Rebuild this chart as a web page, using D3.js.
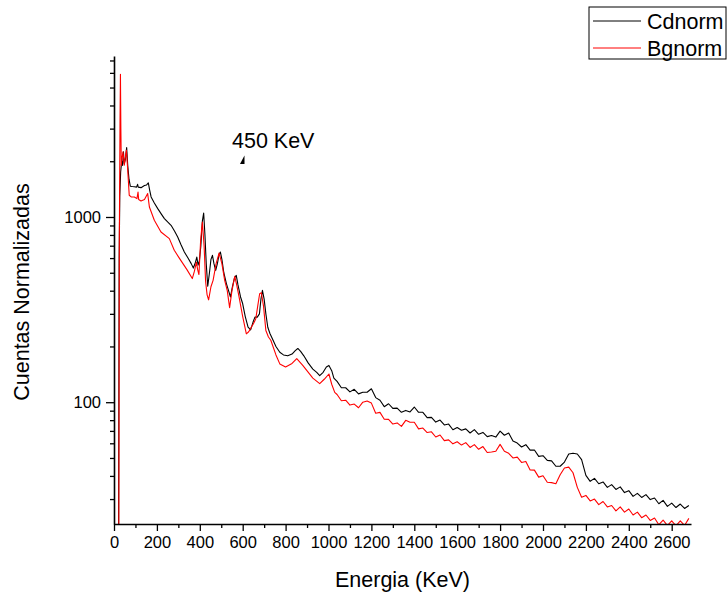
<html>

<head>
    <script src="https://d3js.org/d3.v7.min.js"></script>
    <title>Cdnorm vs Bgnorm</title>
    <style>
        body { margin: 0; background: #fff; }
        text { font-family: Arial, "Liberation Sans", sans-serif; fill: #000; }
    </style>
</head>

<body>
    <div id="vis"></div>
</body>

<script>

    // ---- data (energy in KeV, normalized counts) ----
    var cdEnergyLow = [18, 21, 24, 27, 31, 36, 40, 44, 48, 53, 59, 64, 70, 76, 85, 95, 105, 110, 113, 126,
        142, 152, 160, 166, 173, 188, 204, 220, 235, 250, 266, 282, 297, 312, 328, 345, 360, 370, 380, 386,
        392, 398, 405, 412, 418, 424, 430, 437, 445, 452, 459, 466, 474, 482, 490, 496, 503, 512, 524, 534,
        543, 552, 562, 570, 578, 590, 600, 612, 625, 637, 648, 657, 668, 678, 685, 692, 700, 708, 717, 727,
        740, 755, 773, 790, 810, 830, 845, 857, 870, 885, 905, 927, 945, 959, 975, 990, 1002, 1015, 1025];
    var cdLow = [8, 12, 600, 1300, 1750, 2000, 1900, 2246, 1944, 2050, 2372, 1900, 1600, 1466, 1460, 1455, 1450, 1500, 1450, 1440,
        1480, 1490, 1527, 1400, 1283, 1190, 1110, 1040, 980, 940, 902, 840, 780, 710, 647, 600, 560, 530, 570, 608,
        550, 580, 700, 950, 1051, 800, 560, 423, 500, 590, 621, 560, 515, 560, 630, 647, 590, 500, 437, 400,
        370, 420, 470, 484, 430, 370, 340, 290, 254, 246, 270, 288, 288, 300, 360, 402, 360, 300, 254, 235,
        218, 200, 186, 180, 178, 182, 190, 195, 188, 178, 163, 151, 145, 139, 145, 155, 158, 148, 135];

    var bgEnergyLow = [18, 22, 25, 28, 30, 32, 34, 36, 42, 48, 53, 58, 64, 71, 80, 95, 107, 112, 115, 126,
        142, 157, 165, 188, 219, 258, 281, 306, 340, 365, 375, 384, 390, 396, 404, 412, 420, 427, 434, 441,
        452, 462, 476, 490, 503, 516, 528, 539, 550, 563, 572, 583, 600, 617, 628, 640, 650, 661, 670, 679,
        687, 697, 708, 720, 731, 755, 773, 800, 830, 852, 880, 927, 959, 980, 1002, 1015, 1029];
    var bgLow = [5, 10, 800, 3200, 5900, 3000, 1900, 2026, 2246, 1903, 2100, 2294, 1788, 1310, 1283, 1283, 1257, 1365, 1242, 1220,
        1242, 1338, 1133, 960, 830, 764, 661, 596, 520, 465, 510, 570, 520, 489, 750, 940, 700, 450, 380, 357,
        420, 455, 560, 639, 560, 455, 400, 324, 400, 478, 430, 370, 290, 234, 240, 254, 265, 282, 330, 385,
        390, 330, 244, 225, 216, 180, 161, 155, 162, 172, 158, 135, 126, 133, 142, 125, 113];

    // high energy part, every 20 KeV from 1040 to 2680 (noisy)
    var tailEnergy = [1040, 1060, 1080, 1100, 1120, 1140, 1160, 1180, 1200, 1220, 1240, 1260, 1280, 1300, 1320, 1340, 1360, 1380, 1400, 1420,
        1440, 1460, 1480, 1500, 1520, 1540, 1560, 1580, 1600, 1620, 1640, 1660, 1680, 1700, 1720, 1740, 1760, 1780, 1800, 1820,
        1840, 1860, 1880, 1900, 1920, 1940, 1960, 1980, 2000, 2020, 2040, 2060, 2080, 2100, 2120, 2140, 2160, 2180, 2200, 2220,
        2240, 2260, 2280, 2300, 2320, 2340, 2360, 2380, 2400, 2420, 2440, 2460, 2480, 2500, 2520, 2540, 2560, 2580, 2600, 2620,
        2640, 2660, 2680];
    var cdTail = [129.5, 119.6, 119.7, 113.7, 117.4, 110.9, 113.2, 113.2, 118.2, 105.9, 102.5, 94.6, 98.1, 92.6, 92.9, 88.2, 90.3, 88.6, 94.2, 88.2,
        88.2, 82.6, 82.8, 78.1, 80.1, 75.4, 76.2, 71.0, 73.0, 70.6, 71.8, 68.2, 71.1, 67.1, 68.7, 65.2, 66.1, 64.8, 69.8, 66.3,
        68.1, 61.7, 60.2, 57.3, 59.0, 55.1, 55.2, 51.0, 51.4, 48.5, 48.2, 45.1, 45.1, 47.5, 52.5, 53.0, 52.5, 49.0, 40.3, 37.4,
        38.8, 36.3, 37.1, 34.7, 35.9, 33.8, 34.9, 32.5, 33.3, 31.0, 32.2, 30.6, 31.7, 29.8, 30.4, 28.3, 29.5, 27.4, 28.5, 27.0,
        28.2, 26.7, 27.7];
    var bgTail = [110.1, 101.9, 102.5, 96.5, 97.7, 93.3, 100, 101.5, 98.9, 87.2, 88.1, 80.9, 80.8, 76.2, 77.3, 74.0, 79.8, 78.0, 78.0, 71.8,
        72.5, 68.6, 69.2, 64.9, 66.5, 62.0, 62.6, 59.6, 61.2, 58.7, 60.5, 57.0, 59.0, 55.7, 57.6, 53.5, 53.9, 54.4, 59.2, 54.4,
        53.0, 50.0, 50.5, 47.3, 47.9, 43.1, 43.0, 39.4, 40.1, 37.0, 36.8, 36.3, 40.6, 44.1, 44.6, 41.6, 34.7, 30.7, 31.4, 29.3,
        30.0, 28.0, 29.1, 27.2, 27.7, 25.9, 27.2, 25.5, 26.5, 24.6, 25.5, 23.8, 24.6, 23.0, 23.7, 21.8, 23.1, 21.6, 22.9, 21.5,
        22.9, 21.6, 23.6];

    var seriesNames = ["Cdnorm", "Bgnorm"];
    var seriesColors = ["#000000", "#ff0000"];
    var xTickValues = d3.range(0, 2601, 100);
    var yTickValues = [30, 40, 50, 60, 70, 80, 90, 100, 200, 300, 400, 500, 600, 700, 800, 900, 1000, 2000, 3000, 4000, 5000, 6000, 7000];

    // ---- layout ----
    var W = 728, H = 597;
    var margin = { top: 56, right: 37, bottom: 73, left: 114 },
        width = W - margin.left - margin.right,
        height = H - margin.top - margin.bottom;

    var svg = d3.select("#vis")
        .append("svg")
        .attr("width", W)
        .attr("height", H);

    var g = svg.append("g")
        .attr("transform", "translate(" + margin.left + "," + margin.top + ")");

    var x = d3.scaleLinear()
        .domain([0, 2690])
        .range([0, width]);

    var y = d3.scaleLog()
        .domain([22, 7400])
        .range([height, 0]);

    // clip for the traces
    svg.append("defs").append("clipPath")
        .attr("id", "plotclip")
        .append("rect")
        .attr("x", 0).attr("y", 0)
        .attr("width", width).attr("height", height);

    var cdData = d3.zip(cdEnergyLow.concat(tailEnergy), cdLow.concat(cdTail));
    var bgData = d3.zip(bgEnergyLow.concat(tailEnergy), bgLow.concat(bgTail));

    var line = d3.line()
        .x(function (d) { return x(d[0]); })
        .y(function (d) { return y(d[1]); });

    var traces = g.append("g").attr("clip-path", "url(#plotclip)");

    traces.append("path")
        .datum(cdData)
        .attr("fill", "none")
        .attr("stroke", seriesColors[0])
        .attr("stroke-width", 1.1)
        .attr("stroke-linejoin", "round")
        .attr("d", line);

    traces.append("path")
        .datum(bgData)
        .attr("fill", "none")
        .attr("stroke", seriesColors[1])
        .attr("stroke-width", 1.1)
        .attr("stroke-linejoin", "round")
        .attr("d", line);

    // ---- x axis ----
    var xAxis = g.append("g")
        .attr("transform", "translate(0," + height + ")")
        .call(d3.axisBottom(x)
            .tickValues(xTickValues)
            .tickSizeOuter(0)
            .tickFormat(function (d) { return d % 200 === 0 ? d : ""; }));

    xAxis.selectAll(".tick line")
        .attr("y2", function (d) { return d % 200 === 0 ? 7 : 4; });
    xAxis.selectAll(".tick text")
        .attr("y", 12)
        .style("font-size", "16.5px");

    // ---- y axis ----
    var yAxis = g.append("g")
        .call(d3.axisLeft(y)
            .tickValues(yTickValues)
            .tickSizeOuter(0)
            .tickFormat(function (d) { return (d === 100 || d === 1000) ? d : ""; }));

    yAxis.selectAll(".tick line")
        .attr("x2", function (d) { return (d === 100 || d === 1000) ? -8 : -4; });
    yAxis.selectAll(".tick text")
        .attr("x", -13)
        .style("font-size", "16.5px");

    g.selectAll(".domain").attr("stroke-width", 1.6);
    g.selectAll(".tick line").attr("stroke-width", 1.3);
    g.selectAll(".tick text").style("font-family", "Arial, 'Liberation Sans', sans-serif");

    // axis titles
    svg.append("text")
        .attr("x", margin.left + width / 2)
        .attr("y", 587)
        .style("text-anchor", "middle")
        .style("font-size", "21.5px")
        .text("Energia (KeV)");

    svg.append("text")
        .attr("transform", "translate(29," + 292 + ")rotate(-90)")
        .style("text-anchor", "middle")
        .style("font-size", "21.5px")
        .text("Cuentas Normalizadas");

    // annotation
    var annE = 550, annV = 2370;
    svg.append("text")
        .attr("x", margin.left + x(annE))
        .attr("y", margin.top + y(annV))
        .style("font-size", "21.5px")
        .text("450 KeV");

    var ax = margin.left + x(annE) + 12.5, ay = margin.top + y(annV) + 8;
    svg.append("path")
        .attr("d", "M" + (ax) + "," + ay + "L" + ax + "," + (ay + 8.5) + "L" + (ax - 4.5) + "," + (ay + 8.5) + "Z")
        .attr("fill", "#000");

    // ---- legend ----
    var legend = svg.append("g").attr("transform", "translate(589,7)");
    legend.append("rect")
        .attr("width", 137)
        .attr("height", 52)
        .attr("fill", "#fff")
        .attr("stroke", "#000")
        .attr("stroke-width", 1);

    seriesNames.forEach(function (name, i) {
        legend.append("line")
            .attr("x1", 4).attr("x2", 52)
            .attr("y1", 14 + i * 27).attr("y2", 14 + i * 27)
            .attr("stroke", seriesColors[i])
            .attr("stroke-width", 1);
        legend.append("text")
            .attr("x", 58)
            .attr("y", 21.5 + i * 27)
            .style("font-size", "21.5px")
            .text(name);
    });

</script>

</html>
